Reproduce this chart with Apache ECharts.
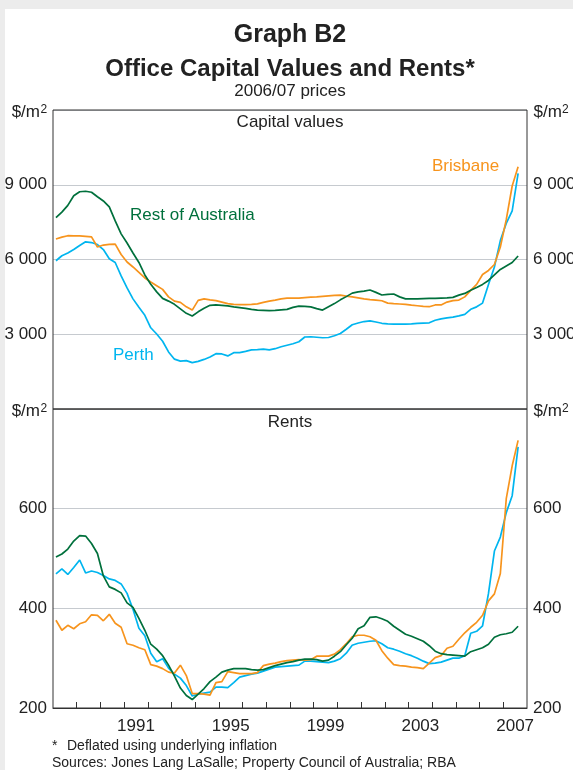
<!DOCTYPE html>
<html>
<head>
<meta charset="utf-8">
<script src="https://cdn.jsdelivr.net/npm/echarts@6/dist/echarts.min.js"></script>
<style>
  html, body { margin: 0; padding: 0; background: #fff; }
  #chart { width: 573px; height: 770px; }
</style>
</head>
<body>
<div id="chart"></div>
<script>
// quarterly data, 1988 Q1 - 2007 Q3 (2006/07 prices, $/m2)
const firstYear = 1988;
const nQuarters = 79;

const capBrisbane = [
  6820, 6900, 6955, 6950, 6950, 6930, 6910, 6500, 6580, 6610, 6620, 6200,
  5900, 5700, 5480, 5260, 5100, 4950, 4800, 4500, 4330, 4280, 4100, 3970,
  4360, 4420, 4380, 4350, 4290, 4230, 4200, 4190, 4190, 4200, 4220, 4280,
  4330, 4370, 4420, 4450, 4450, 4450, 4470, 4490, 4500, 4520, 4540, 4560,
  4570, 4530, 4500, 4460, 4420, 4390, 4370, 4345, 4250, 4230, 4215, 4200,
  4170, 4145, 4120, 4105, 4175, 4175, 4290, 4350, 4370, 4500, 4760, 5000,
  5400, 5560, 5800, 6500, 7600, 8950, 9720
];
const capPerth = [
  5950, 6150, 6260, 6400, 6560, 6710, 6680, 6600, 6400, 6030, 5880, 5340,
  4860, 4420, 4080, 3760, 3260, 3010, 2720, 2290, 2000, 1920, 1940, 1860,
  1910, 1990, 2090, 2220, 2210, 2130, 2260, 2260, 2310, 2370, 2380, 2400,
  2370, 2420, 2500, 2560, 2620, 2700, 2890, 2900, 2880, 2860, 2870, 2940,
  3030, 3200, 3380, 3450, 3510, 3540, 3490, 3440, 3420, 3410, 3410, 3410,
  3420, 3440, 3450, 3460, 3560, 3620, 3660, 3690, 3740, 3800, 4000, 4100,
  4250, 5000, 5700, 6760, 7450, 7950, 9460
];
const capRest = [
  7680, 7900, 8170, 8560, 8720, 8740, 8700, 8520, 8350, 8110, 7550, 7030,
  6660, 6260, 5880, 5380, 5010, 4700, 4440, 4330, 4200, 4020, 3840, 3730,
  3900, 4040, 4160, 4180, 4160, 4140, 4100, 4070, 4040, 4000, 3970, 3960,
  3950, 3960, 3980, 4000, 4080, 4130, 4120, 4100, 4030, 3970, 4100, 4230,
  4380, 4510, 4650, 4700, 4730, 4775, 4680, 4575, 4600, 4615, 4500, 4420,
  4420, 4420, 4430, 4440, 4440, 4450, 4460, 4480, 4570, 4640, 4770, 4880,
  5000, 5160, 5380, 5600, 5740, 5880, 6140
];
const rentBrisbane = [
  376, 356, 366, 359, 369, 373, 387, 386, 375, 388, 370, 362,
  329, 326, 321, 317, 287, 284, 279, 272, 270, 286, 265, 229,
  229, 228, 226, 251, 253, 273, 271, 269, 269, 269, 271, 285,
  288, 290, 293, 295, 296, 297, 296, 297, 304, 304, 304, 308,
  317, 329, 343, 346, 346, 343, 336, 315, 300, 287, 285, 284,
  282, 281, 279, 290, 301, 305, 320, 324, 338, 351, 362, 372,
  386, 415, 429, 470, 620, 686, 737
];
const rentPerth = [
  469, 479, 468, 482, 497, 471, 475, 472, 466, 459, 456, 449,
  430, 398, 360, 345, 310, 293, 299, 280, 268, 260, 245, 224,
  228, 230, 232, 242, 242, 241, 251, 262, 265, 268, 270, 274,
  278, 282, 283, 284, 285, 286, 294, 294, 293, 292, 291, 294,
  299, 310, 326, 330, 332, 334, 335, 329, 321, 318, 314, 309,
  305, 300, 294, 289, 290, 292, 296, 300, 300, 305, 350, 354,
  365, 430, 515, 543, 592, 626, 724
];
const rentRest = [
  503, 509, 519, 535, 546, 545, 530, 510, 465, 443, 438, 431,
  411, 402, 380, 356, 328, 318, 305, 286, 264, 240, 225, 217,
  228, 239, 253, 262, 272, 276, 279, 279, 279, 277, 276, 277,
  281, 285, 288, 291, 293, 296, 298, 298, 297, 294, 296, 304,
  313, 327, 340, 359, 365, 382, 383, 379, 374, 364, 356, 348,
  344, 339, 334, 325, 314, 309, 307, 306, 305, 304, 313, 317,
  321, 328, 342, 347, 349, 352, 364
];

const tickYears = [1989, 1990, 1991, 1992, 1993, 1994, 1995, 1996, 1997, 1998,
  1999, 2000, 2001, 2002, 2003, 2004, 2005, 2006, 2007];
const labelYears = [1991, 1995, 1999, 2003, 2007];
const capTicks = [3000, 6000, 9000];
const rentTicks = [200, 400, 600];

const FONT = '"Liberation Sans", Arial, sans-serif';
const ORANGE = '#f7941d';
const BLUE = '#00b5ef';
const GREEN = '#00703c';

// mid-quarter position on the time axis
const quarterTimes = [];
for (let i = 0; i < nQuarters; i++) {
  quarterTimes.push(firstYear + Math.floor(i / 4) + (i % 4) * 0.25 + 0.125);
}
const pairs = vals => vals.map((v, i) => [quarterTimes[i], v]);

const fmt = v => v >= 1000 ? (v / 1000) + ' 000' : String(v);

const chart = echarts.init(document.getElementById('chart'));

const yAxisBase = (grid, pos, min, max, interval, ticks, split) => ({
  gridIndex: grid, type: 'value', position: pos, min: min, max: max, interval: interval,
  axisLine: {show: false}, axisTick: {show: false},
  axisLabel: {customValues: ticks, formatter: fmt, color: '#222', fontSize: 17,
    fontFamily: FONT, margin: 6},
  splitLine: {show: split, lineStyle: {color: '#c6cacf', width: 1}}
});

const line = (name, data, color, x, y) => ({
  name: name, type: 'line', data: pairs(data), xAxisIndex: x, yAxisIndex: y,
  showSymbol: false, symbol: 'none', lineStyle: {color: color, width: 1.7},
  itemStyle: {color: color}
});

const txt = (x, y, text, size, opts) => Object.assign({
  type: 'text', x: x, y: y, z: 20,
  style: Object.assign({text: text, font: size + 'px ' + FONT, fill: '#222',
    textAlign: 'left', textVerticalAlign: 'middle'}, opts || {})
});

chart.setOption({
  animation: false,
  backgroundColor: '#fff',
  grid: [
    {left: 53, top: 110, width: 474, height: 299, show: true, borderColor: '#333', borderWidth: 1, z: 3,
      outerBoundsMode: 'none', containLabel: false},
    {left: 53, top: 409, width: 474, height: 299, show: true, borderColor: '#333', borderWidth: 1, z: 3,
      outerBoundsMode: 'none', containLabel: false}
  ],
  xAxis: [
    {gridIndex: 0, type: 'value', min: 1988, max: 2008,
      axisLine: {show: false}, axisTick: {show: false}, axisLabel: {show: false}, splitLine: {show: false}},
    {gridIndex: 1, type: 'value', min: 1988, max: 2008,
      axisLine: {show: true, lineStyle: {color: '#333'}},
      axisTick: {show: true, inside: true, length: 6, customValues: tickYears, lineStyle: {color: '#333'}},
      axisLabel: {customValues: labelYears.map(y => y + 0.5), formatter: v => String(Math.floor(v)),
        color: '#222', fontSize: 17, fontFamily: FONT, margin: 10},
      splitLine: {show: false}}
  ],
  yAxis: [
    yAxisBase(0, 'left', 0, 12000, 3000, capTicks, true),
    yAxisBase(0, 'right', 0, 12000, 3000, capTicks, false),
    yAxisBase(1, 'left', 200, 800, 200, rentTicks, true),
    yAxisBase(1, 'right', 200, 800, 200, rentTicks, false)
  ],
  series: [
    line('Perth', capPerth, BLUE, 0, 0),
    line('Brisbane', capBrisbane, ORANGE, 0, 0),
    line('Rest of Australia', capRest, GREEN, 0, 0),
    line('Perth', rentPerth, BLUE, 1, 2),
    line('Brisbane', rentBrisbane, ORANGE, 1, 2),
    line('Rest of Australia', rentRest, GREEN, 1, 2)
  ],
  graphic: [
    {type: 'rect', x: 0, y: 0, z: 30, shape: {width: 573, height: 9}, style: {fill: '#ececec'}},
    {type: 'rect', x: 0, y: 0, z: 30, shape: {width: 5, height: 770}, style: {fill: '#ececec'}},
    txt(290, 35, 'Graph B2', 25, {font: 'bold 25px ' + FONT, textAlign: 'center'}),
    txt(290, 69.5, 'Office Capital Values and Rents*', 24, {font: 'bold 24px ' + FONT, textAlign: 'center'}),
    txt(290, 91, '2006/07 prices', 17, {textAlign: 'center'}),
    txt(290, 122, 'Capital values', 17, {textAlign: 'center'}),
    txt(290, 422, 'Rents', 17, {textAlign: 'center'}),
    // unit labels
    txt(40, 121, '$/m', 17, {textAlign: 'right', textVerticalAlign: 'bottom'}),
    txt(40.5, 116, '2', 12, {textVerticalAlign: 'bottom'}),
    txt(533.5, 121, '$/m', 17, {textVerticalAlign: 'bottom'}),
    txt(562, 116, '2', 12, {textVerticalAlign: 'bottom'}),
    txt(40, 420, '$/m', 17, {textAlign: 'right', textVerticalAlign: 'bottom'}),
    txt(40.5, 415, '2', 12, {textVerticalAlign: 'bottom'}),
    txt(533.5, 420, '$/m', 17, {textVerticalAlign: 'bottom'}),
    txt(562, 415, '2', 12, {textVerticalAlign: 'bottom'}),
    // series labels
    txt(432, 166.5, 'Brisbane', 17, {fill: ORANGE}),
    txt(130, 215, 'Rest of Australia', 17, {fill: GREEN}),
    txt(113, 355.5, 'Perth', 17, {fill: BLUE}),
    // notes
    txt(52, 746, '*', 14),
    txt(67, 746, 'Deflated using underlying inflation', 14),
    txt(52, 763, 'Sources: Jones Lang LaSalle; Property Council of Australia; RBA', 14)
  ]
});
</script>
</body>
</html>
